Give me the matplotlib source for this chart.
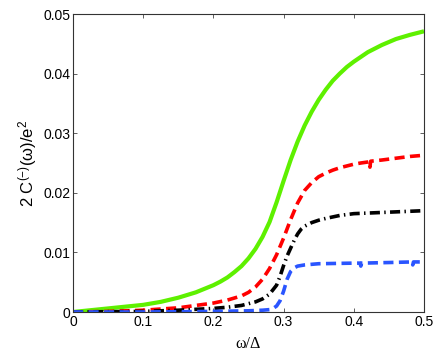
import matplotlib
matplotlib.use("Agg")
import matplotlib.pyplot as plt

# values
green_x = [0, 0.025, 0.05, 0.075, 0.1, 0.125, 0.15, 0.175, 0.2, 0.21, 0.22, 0.23, 0.24,
           0.25, 0.26, 0.27, 0.28, 0.29, 0.3, 0.31, 0.32, 0.33, 0.34, 0.35, 0.36, 0.37,
           0.38, 0.39, 0.4, 0.42, 0.44, 0.46, 0.48, 0.5]
green_y = [0, 0.0003, 0.0006, 0.0009, 0.0012, 0.0017, 0.0024, 0.0033, 0.0045, 0.0051,
           0.0058, 0.0067, 0.0077, 0.0090, 0.0106, 0.0126, 0.0151, 0.0184, 0.0220,
           0.0255, 0.0286, 0.0313, 0.0336, 0.0356, 0.0373, 0.0388, 0.0400, 0.0411,
           0.0420, 0.0436, 0.0448, 0.0458, 0.0465, 0.0471]

red_x = [0, 0.05, 0.1, 0.15, 0.2, 0.22, 0.24, 0.25, 0.26, 0.27, 0.28, 0.29, 0.3, 0.31,
         0.32, 0.33, 0.34, 0.35, 0.36, 0.37, 0.38, 0.39, 0.4, 0.41, 0.422, 0.423, 0.424,
         0.44, 0.46, 0.48, 0.5]
red_y = [0, 0.0001, 0.0003, 0.0007, 0.0015, 0.0020, 0.0027, 0.0033, 0.0042, 0.0055,
         0.0073, 0.0096, 0.0124, 0.0155, 0.0183, 0.0204, 0.0217, 0.0227, 0.0233, 0.0238,
         0.0242, 0.0245, 0.0248, 0.0250, 0.0252, 0.0243, 0.0253, 0.0255, 0.0258, 0.0261,
         0.0263]

black_x = [0, 0.1, 0.15, 0.2, 0.22, 0.24, 0.26, 0.27, 0.28, 0.29, 0.295, 0.3, 0.305,
           0.31, 0.315, 0.32, 0.325, 0.33, 0.34, 0.35, 0.36, 0.38, 0.4, 0.44, 0.48, 0.5]
black_y = [0, 0.0001, 0.0003, 0.0006, 0.0008, 0.0011, 0.0017, 0.0022, 0.0030, 0.0045,
           0.0060, 0.0078, 0.0094, 0.0107, 0.0120, 0.0131, 0.0139, 0.0144, 0.0150,
           0.0154, 0.0157, 0.0162, 0.0165, 0.0167, 0.0169, 0.0170]

blue_x = [0, 0.1, 0.2, 0.25, 0.27, 0.28, 0.285, 0.29, 0.295, 0.3, 0.305, 0.31, 0.315,
          0.32, 0.33, 0.35, 0.4, 0.409, 0.41, 0.411, 0.45, 0.483, 0.484, 0.485, 0.5]
blue_y = [0, 0, 0.0001, 0.0002, 0.0003, 0.0004, 0.0006, 0.0010, 0.0019, 0.0035, 0.0055,
          0.0068, 0.0074, 0.0077, 0.0079, 0.0081, 0.0082, 0.0082, 0.0077, 0.0082,
          0.0083, 0.0084, 0.0079, 0.0084, 0.0084]

x_ticks = [0, 0.1, 0.2, 0.3, 0.4, 0.5]
y_ticks = [0, 0.01, 0.02, 0.03, 0.04, 0.05]

plt.rcParams["font.family"] = ["Liberation Sans", "DejaVu Sans"]
plt.rcParams["mathtext.fontset"] = "custom"
plt.rcParams["mathtext.rm"] = "Liberation Sans"
plt.rcParams["mathtext.it"] = "Liberation Sans"

fig = plt.figure(figsize=(4.36, 3.57), dpi=100)
ax = fig.add_axes([73 / 436, 1 - 312 / 357, (424 - 73) / 436, (312 - 14) / 357])

ax.plot(green_x, green_y, color="#5ef000", lw=3.0, solid_capstyle="butt")
ax.plot(red_x, red_y, color="#ff0000", lw=2.6, dashes=(2.8, 1.5))
ax.plot(black_x, black_y, color="black", lw=2.6, dashes=(2.8, 1.2, 0.4, 1.2))
ax.plot(blue_x, blue_y, color="#2a55ff", lw=2.6, dashes=(2.8, 1.5))

ax.set_xlim(0, 0.5)
ax.set_ylim(0, 0.05)
ax.set_xticks(x_ticks)
ax.set_xticklabels(["0", "0.1", "0.2", "0.3", "0.4", "0.5"])
ax.set_yticks(y_ticks)
ax.set_yticklabels(["0", "0.01", "0.02", "0.03", "0.04", "0.05"])
ax.tick_params(direction="in", length=3, width=0.6, top=True, right=True,
               labelsize=10, color="#444444", pad=2)
for s in ax.spines.values():
    s.set_linewidth(0.8)
    s.set_color("#333333")

ax.set_ylabel(r"2 C$^{(-)}$(ω)/e$^{2}$", fontsize=12, labelpad=3)
ax.set_xlabel("ω/Δ", fontsize=11.5, family=["Liberation Serif", "DejaVu Serif"], labelpad=5)

fig.savefig("out.png", dpi=100)
